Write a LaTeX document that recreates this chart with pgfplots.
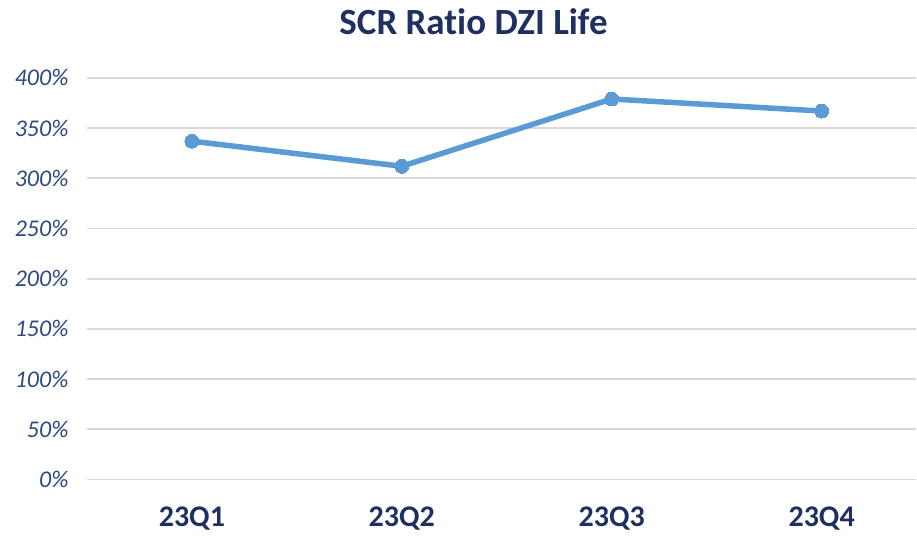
\documentclass[border=0pt]{standalone}
\usepackage{pgfplots}
\pgfplotsset{compat=1.18}
\usepackage{fontspec}
\setmainfont[Ligatures=NoCommon]{Carlito}
\definecolor{navy}{HTML}{1F3060}
\definecolor{ynavy}{HTML}{2F4A7D}
\definecolor{linecol}{HTML}{5B9BD5}
\definecolor{gridcol}{HTML}{D9D9D9}
\begin{document}
\begin{tikzpicture}
\begin{axis}[
  scale only axis,
  width=830pt, height=402pt,
  xmin=-0.5, xmax=3.45,
  ymin=0, ymax=400,
  ytick={0,50,...,400},
  yticklabel={\pgfmathprintnumber{\tick}\%},
  /pgf/number format/assume math mode=true,
  yticklabel style={font=\fontsize{24}{24}\selectfont\itshape, color=ynavy, xshift=-15pt},
  xtick={0,1,2,3},
  xticklabels={23Q1,23Q2,23Q3,23Q4},
  xticklabel style={font=\fontsize{30}{30}\selectfont\bfseries, color=navy, yshift=-24pt},
  axis line style={draw=none},
  tick style={draw=none},
  ymajorgrids,
  grid style={gridcol, line width=1.8pt},
  title={SCR Ratio DZI Life},
  title style={font=\fontsize{37}{37}\selectfont\bfseries, color=navy, yshift=34pt, xshift=-28pt},
  clip=false,
]
\addplot[color=linecol, line width=5.5pt, mark=*, mark size=7pt, mark options={fill=linecol, draw=linecol, line width=0pt}]
coordinates {(0,337) (1,312) (2,379) (3,367)};
\end{axis}
\path[use as bounding box] ([shift={(-87pt,-56pt)}]current axis.south west) rectangle ([shift={(0pt,78pt)}]current axis.north east);
\end{tikzpicture}
\end{document}
